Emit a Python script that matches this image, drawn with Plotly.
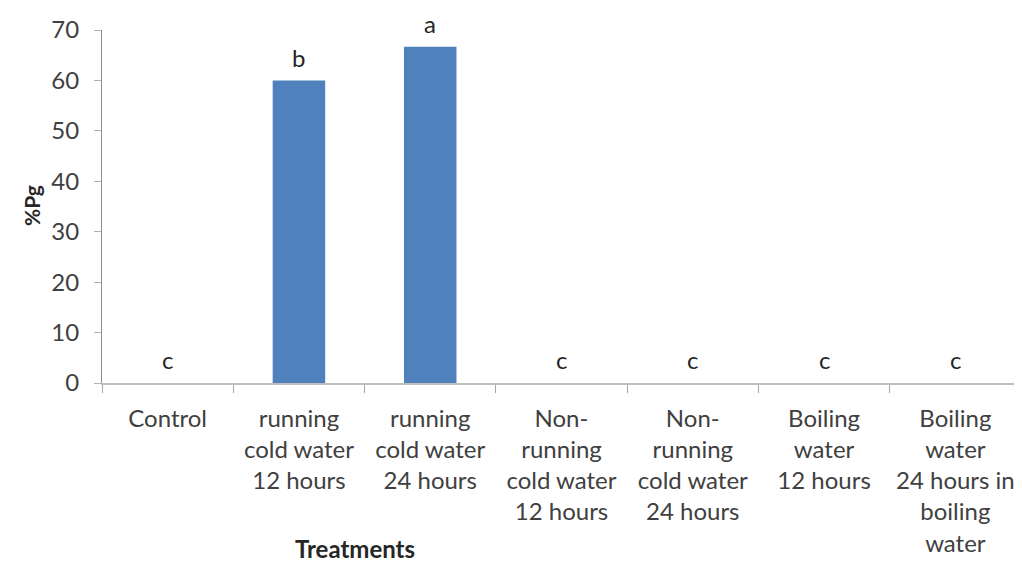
import plotly.graph_objects as go

categories = [
    "Control",
    "running<br>cold water<br>12 hours",
    "running<br>cold water<br>24 hours",
    "Non-<br>running<br>cold water<br>12 hours",
    "Non-<br>running<br>cold water<br>24 hours",
    "Boiling<br>water<br>12 hours",
    "Boiling<br>water<br>24 hours in<br>boiling<br>water",
]
pg_values = [0, 60, 66.7, 0, 0, 0, 0]
letters = ["c", "b", "a", "c", "c", "c", "c"]
y_ticks = [0, 10, 20, 30, 40, 50, 60, 70]
Y_MAX = 70

FONT = "Lato, 'Open Sans', sans-serif"
TXT = "#404040"

# page body has an 8px margin; figure sized to fit the visible window
W, H = 1014, 557
L, T, R, B = 94, 22, 1, 182
PW, PH = W - L - R, H - T - B

fig = go.Figure()
fig.add_trace(go.Bar(
    x=categories, y=pg_values, width=0.4,
    marker=dict(color="#4f81bd", line=dict(width=0)),
    showlegend=False, hoverinfo="skip",
))

annots = []
for cat, val, lab in zip(categories, pg_values, letters):
    annots.append(dict(
        x=cat, y=(val + 1.5) / Y_MAX, xref="x", yref="y domain", text=lab,
        showarrow=False, xanchor="center", yanchor="bottom",
        borderpad=0, font=dict(family=FONT, size=24, color="#262626"),
    ))
annots += [
    dict(text="<b>Treatments</b>", xref="paper", yref="paper",
         x=(347 - L) / PW, y=-(540 - (T + PH)) / PH, xanchor="center", yanchor="middle",
         showarrow=False, font=dict(family=FONT, size=24, color="#262626")),
    dict(text="<b>%Pg</b>", xref="paper", yref="paper",
         x=-(L - 23) / PW, y=((T + PH) - 198) / PH, xanchor="center", yanchor="middle",
         textangle=-90, showarrow=False, font=dict(family=FONT, size=21, color="#262626")),
]

fig.update_layout(
    width=W, height=H,
    margin=dict(l=L, r=R, t=T, b=B, autoexpand=False),
    paper_bgcolor="white", plot_bgcolor="white",
    font=dict(family=FONT, color=TXT),
    xaxis=dict(
        type="category", tickson="boundaries", ticks="outside", ticklen=8,
        tickcolor="#a6a6a6", tickwidth=1, automargin=False, tickangle=0,
        showline=True, linecolor="#bfbfbf", linewidth=2,
        showgrid=False, tickfont=dict(family=FONT, size=24, color=TXT),
        ticklabelstandoff=13, range=[-0.5, 6.5],
    ),
    yaxis=dict(
        range=[0, Y_MAX], tickvals=y_ticks, ticks="outside", ticklen=7,
        tickcolor="#b0b0b0", showline=True, linecolor="#8c8c8c", linewidth=1,
        showgrid=False, zeroline=False, automargin=False,
        tickfont=dict(family=FONT, size=24, color=TXT), ticklabelstandoff=10,
    ),
    annotations=annots,
)

fig.write_html("out.html")
